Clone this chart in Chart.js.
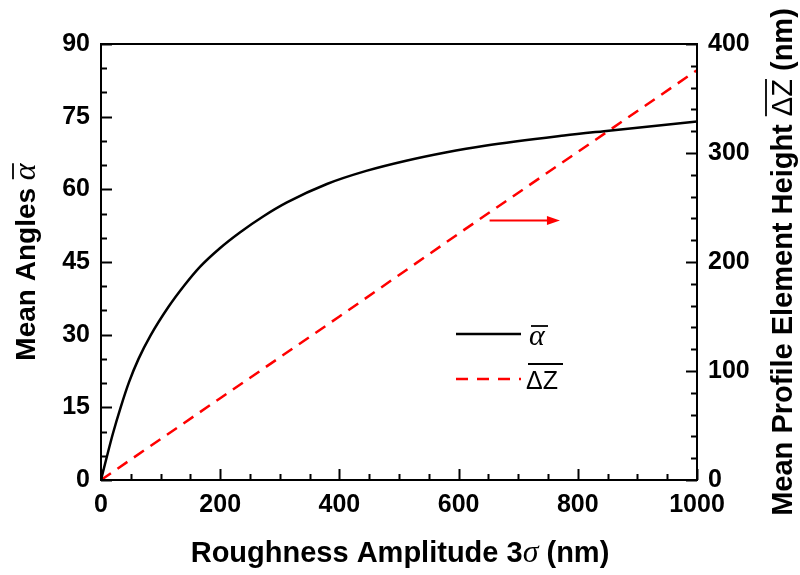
<!DOCTYPE html>
<html>
<head>
<meta charset="utf-8">
<script src="https://cdn.jsdelivr.net/npm/chart.js@4"></script>
<style>
  html, body { margin: 0; padding: 0; background: #fff; }
  #wrap { width: 800px; height: 575px; }
</style>
</head>
<body>
<div id="wrap"><canvas id="roughChart" width="800" height="575"></canvas></div>
<script>
// -------------------------------
// Data
// -------------------------------
const alphaX = [0, 10, 20, 33, 47, 63, 83, 113, 140, 166, 199, 233, 272, 312, 379, 445, 512, 578, 644, 777, 844, 1000];
const alphaY = [0, 4.9, 9.6, 15.0, 20.2, 25.0, 29.8, 35.7, 40.2, 44.0, 47.8, 51.1, 54.4, 57.3, 61.1, 63.8, 65.9, 67.6, 69.0, 71.1, 72.0, 74.0];

const dzX = [0, 200, 400, 600, 800, 1000];
const dzY = [0, 75, 150, 226, 301, 376];

const xTicks = [0, 200, 400, 600, 800, 1000];
const leftTicks = [0, 15, 30, 45, 60, 75, 90];
const rightTicks = [0, 100, 200, 300, 400];

// arrow pointing to the right axis (data coords: x in nm, y on right axis)
const arrowFrom = { x: 652, y: 238 };
const arrowTo = { x: 770, y: 238 };

// -------------------------------
// Helpers
// -------------------------------
const SANS = "'Liberation Sans', Arial, sans-serif";
const SERIF = "'Liberation Serif', 'Times New Roman', serif";

const toPoints = (xs, ys) => xs.map((x, i) => ({ x, y: ys[i] }));

function drawRuns(ctx, runs, cx, cy) {
  let total = 0;
  runs.forEach((r) => {
    ctx.font = r.font;
    r.w = ctx.measureText(r.text).width;
    total += r.w;
  });
  let x = cx - total / 2;
  runs.forEach((r) => {
    ctx.font = r.font;
    ctx.fillStyle = r.color || "#000";
    ctx.textAlign = "left";
    ctx.textBaseline = "alphabetic";
    ctx.fillText(r.text, x, cy);
    if (r.over) {
      ctx.beginPath();
      ctx.lineWidth = 1.8;
      ctx.strokeStyle = r.color || "#000";
      ctx.moveTo(x + (r.overPad || 0), cy - r.over);
      ctx.lineTo(x + r.w, cy - r.over);
      ctx.stroke();
    }
    x += r.w;
  });
}

function drawTicks(ctx, scale, ca, step, minor, side) {
  for (let v = scale.min; v <= scale.max + 1e-9; v += minor) {
    const isMajor = Math.abs(v / step - Math.round(v / step)) < 1e-6;
    const len = isMajor ? 11 : 6;
    const p = Math.round(scale.getPixelForValue(v)) + 0.5;
    ctx.beginPath();
    if (side === "bottom") {
      ctx.moveTo(p, ca.bottom);
      ctx.lineTo(p, ca.bottom - len);
    } else if (side === "left") {
      ctx.moveTo(ca.left, p);
      ctx.lineTo(ca.left + len, p);
    } else {
      ctx.moveTo(ca.right, p);
      ctx.lineTo(ca.right - len, p);
    }
    ctx.stroke();
  }
}

// -------------------------------
// Frame, ticks, titles, legend, arrow
// -------------------------------
const framePlugin = {
  id: "framePlugin",
  afterDraw(chart) {
    const ctx = chart.ctx;
    const ca = chart.chartArea;
    const sx = chart.scales.x;
    const sy = chart.scales.y;
    const sy1 = chart.scales.y1;
    ctx.save();

    // frame
    ctx.strokeStyle = "#000";
    ctx.lineWidth = 2;
    ctx.strokeRect(ca.left, ca.top, ca.right - ca.left, ca.bottom - ca.top);

    // inward ticks
    drawTicks(ctx, sx, ca, 200, 50, "bottom");
    drawTicks(ctx, sy, ca, 15, 5, "left");
    drawTicks(ctx, sy1, ca, 100, 20, "right");

    // x title
    drawRuns(ctx, [
      { text: "Roughness Amplitude 3", font: `bold 29px ${SANS}` },
      { text: "\u03C3", font: `italic 32px ${SERIF}` },
      { text: " (nm)", font: `bold 29px ${SANS}` },
    ], 400, 562);

    // left title
    ctx.save();
    ctx.translate(35, 262);
    ctx.rotate(-Math.PI / 2);
    drawRuns(ctx, [
      { text: "Mean Angles ", font: `bold 28px ${SANS}` },
      { text: "\u03B1", font: `italic 32px ${SERIF}`, over: 22, overPad: 1 },
    ], 0, 0);
    ctx.restore();

    // right title
    ctx.save();
    ctx.translate(792, 262);
    ctx.rotate(-Math.PI / 2);
    drawRuns(ctx, [
      { text: "Mean Profile Element Height ", font: `bold 29px ${SANS}` },
      { text: "\u0394Z", font: `29px ${SANS}`, over: 26 },
      { text: " (nm)", font: `bold 29px ${SANS}` },
    ], 0, 0);
    ctx.restore();

    // legend
    ctx.lineWidth = 2.5;
    ctx.strokeStyle = "#000";
    ctx.setLineDash([]);
    ctx.beginPath();
    ctx.moveTo(456, 334);
    ctx.lineTo(521, 334);
    ctx.stroke();
    ctx.font = `italic 30px ${SERIF}`;
    ctx.fillStyle = "#000";
    ctx.textAlign = "left";
    ctx.textBaseline = "alphabetic";
    ctx.fillText("\u03B1", 529, 345);
    ctx.lineWidth = 1.8;
    ctx.beginPath();
    ctx.moveTo(531, 326);
    ctx.lineTo(548, 326);
    ctx.stroke();

    ctx.strokeStyle = "#ff0000";
    ctx.lineWidth = 2.5;
    ctx.setLineDash([12, 9]);
    ctx.beginPath();
    ctx.moveTo(456, 379);
    ctx.lineTo(521, 379);
    ctx.stroke();
    ctx.setLineDash([]);
    ctx.font = `25px ${SANS}`;
    ctx.fillStyle = "#000";
    ctx.fillText("\u0394Z", 526, 389);
    ctx.strokeStyle = "#000";
    ctx.lineWidth = 1.8;
    ctx.beginPath();
    ctx.moveTo(528, 364);
    ctx.lineTo(563, 364);
    ctx.stroke();

    // arrow
    const ax0 = sx.getPixelForValue(arrowFrom.x);
    const ax1 = sx.getPixelForValue(arrowTo.x);
    const ay = sy1.getPixelForValue(arrowFrom.y);
    ctx.strokeStyle = "#ff0000";
    ctx.fillStyle = "#ff0000";
    ctx.lineWidth = 2;
    ctx.beginPath();
    ctx.moveTo(ax0, ay);
    ctx.lineTo(ax1 - 10, ay);
    ctx.stroke();
    ctx.beginPath();
    ctx.moveTo(ax1, ay);
    ctx.lineTo(ax1 - 13, ay - 4.5);
    ctx.lineTo(ax1 - 13, ay + 4.5);
    ctx.closePath();
    ctx.fill();

    ctx.restore();
  },
};

// -------------------------------
// Chart
// -------------------------------
const tickFont = { family: SANS, size: 25, weight: "bold" };
const plainLabel = (v) => String(v);

new Chart(document.getElementById("roughChart").getContext("2d"), {
  type: "line",
  data: {
    datasets: [
      {
        label: "alpha",
        data: toPoints(alphaX, alphaY),
        yAxisID: "y",
        borderColor: "#000",
        borderWidth: 2.5,
        pointRadius: 0,
        cubicInterpolationMode: "monotone",
        fill: false,
      },
      {
        label: "dZ",
        data: toPoints(dzX, dzY),
        yAxisID: "y1",
        borderColor: "#ff0000",
        borderWidth: 2.5,
        borderDash: [12, 8],
        pointRadius: 0,
        fill: false,
      },
    ],
  },
  options: {
    responsive: false,
    animation: false,
    devicePixelRatio: 1,
    layout: { padding: { top: 44, left: 0, right: 0, bottom: 0 } },
    plugins: { legend: { display: false }, tooltip: { enabled: false } },
    scales: {
      x: {
        type: "linear",
        min: 0,
        max: 1000,
        afterFit: (s) => { s.height = 95; },
        afterBuildTicks: (s) => { s.ticks = xTicks.map((v) => ({ value: v })); },
        grid: { display: false, drawTicks: false },
        border: { display: false },
        ticks: { font: tickFont, color: "#000", padding: 10, maxRotation: 0, callback: plainLabel },
      },
      y: {
        position: "left",
        min: 0,
        max: 90,
        afterFit: (s) => { s.width = 101; },
        afterBuildTicks: (s) => { s.ticks = leftTicks.map((v) => ({ value: v })); },
        grid: { display: false, drawTicks: false },
        border: { display: false },
        ticks: { font: tickFont, color: "#000", padding: 11, callback: plainLabel },
      },
      y1: {
        position: "right",
        min: 0,
        max: 400,
        afterFit: (s) => { s.width = 103; },
        afterBuildTicks: (s) => { s.ticks = rightTicks.map((v) => ({ value: v })); },
        grid: { display: false, drawTicks: false },
        border: { display: false },
        ticks: { font: tickFont, color: "#000", padding: 11, callback: plainLabel },
      },
    },
  },
  plugins: [framePlugin],
});
</script>
</body>
</html>
